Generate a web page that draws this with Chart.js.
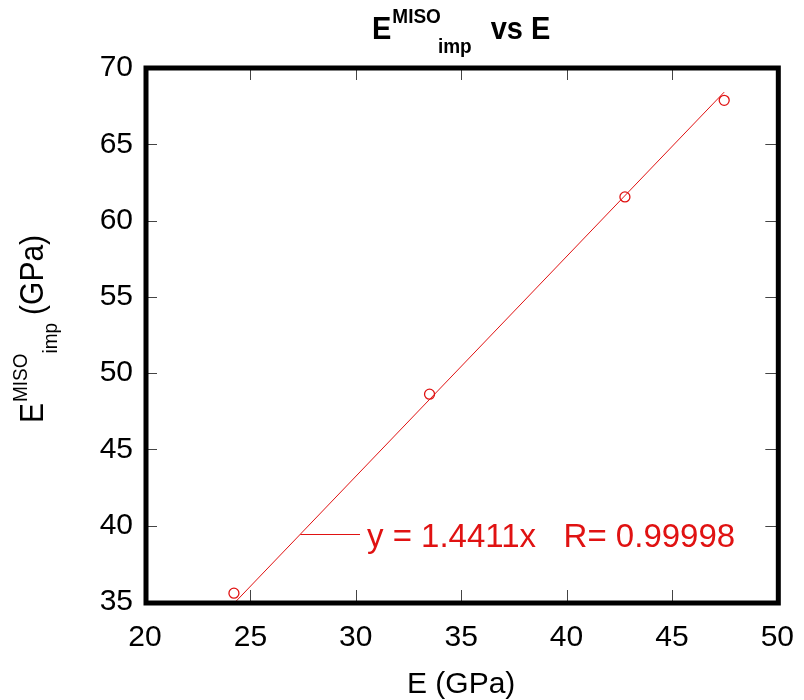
<!DOCTYPE html>
<html>
<head>
<meta charset="utf-8">
<script src="https://cdn.jsdelivr.net/npm/chart.js@4.4.1/dist/chart.umd.min.js"></script>
<style>
  body { margin: 0; background: #fff; }
  #wrap { width: 804px; height: 700px; }
</style>
</head>
<body>
<div id="wrap"><canvas id="myChart" width="804" height="700"></canvas></div>
<script>
// measured points (E, E_imp^MISO), GPa
const eValues = [24.22, 33.50, 42.77, 47.48];
const eImpValues = [35.58, 48.62, 61.55, 67.88];

// fitted line end points
const fitX = [24.30, 47.48];
const fitY = [35.02, 68.42];

// label of the fit and its leader line (data coords)
const fitLabel = 'y = 1.4411x   R= 0.99998';
const leaderX = [27.37, 30.20];
const leaderY = 39.44;

const xTicks = [20, 25, 30, 35, 40, 45, 50];
const yTicks = [35, 40, 45, 50, 55, 60, 65, 70];

const red = 'rgb(224,18,18)';
const fontFam = '"Liberation Sans", Arial, Helvetica, sans-serif';

const pts = eValues.map((v, i) => ({ x: v, y: eImpValues[i] }));
const fitPts = fitX.map((v, i) => ({ x: v, y: fitY[i] }));

// text made of base / superscript / subscript pieces, centred on x
// sy stretches the glyphs vertically (the source font is tall)
const drawRich = (ctx, x, y, parts, big, small, bold, sy) => {
    const w = bold ? 'bold ' : '';
    let total = 0;
    parts.forEach(p => {
        ctx.font = w + (p.k === 'n' ? big : small) + 'px ' + fontFam;
        p.w = ctx.measureText(p.t).width;
        total += p.w + (p.dx || 0);
    });
    let cx = x - total / 2;
    ctx.save();
    ctx.translate(0, y);
    ctx.scale(1, sy);
    parts.forEach(p => {
        ctx.font = w + (p.k === 'n' ? big : small) + 'px ' + fontFam;
        let dy = 0;
        if (p.k === 'sup') dy = -16 / sy;
        if (p.k === 'sub') dy = 14 / sy;
        cx += (p.dx || 0);
        ctx.fillText(p.t, cx, dy);
        cx += p.w;
    });
    ctx.restore();
};

const framePlugin = {
    id: 'frame',
    afterDraw(chart) {
        const ctx = chart.ctx;
        const a = chart.chartArea;
        const xs = chart.scales.x;
        const ys = chart.scales.y;
        ctx.save();

        // inner ticks on all four sides
        ctx.strokeStyle = '#444';
        ctx.lineWidth = 1;
        ctx.beginPath();
        xTicks.slice(1, -1).forEach(t => {
            const px = Math.round(xs.getPixelForValue(t)) + 0.5;
            ctx.moveTo(px, a.bottom); ctx.lineTo(px, a.bottom - 12);
            ctx.moveTo(px, a.top); ctx.lineTo(px, a.top + 12);
        });
        yTicks.slice(1, -1).forEach(t => {
            const py = Math.round(ys.getPixelForValue(t)) + 0.5;
            ctx.moveTo(a.left, py); ctx.lineTo(a.left + 12, py);
            ctx.moveTo(a.right, py); ctx.lineTo(a.right - 12, py);
        });
        ctx.stroke();

        // thick box
        ctx.strokeStyle = '#000';
        ctx.lineWidth = 5;
        ctx.strokeRect(a.left + 1, a.top, a.right - a.left, a.bottom - a.top + 1);

        // fit label with leader
        ctx.strokeStyle = red;
        ctx.lineWidth = 1;
        const ly = Math.round(ys.getPixelForValue(leaderY)) + 0.5;
        ctx.beginPath();
        ctx.moveTo(xs.getPixelForValue(leaderX[0]), ly);
        ctx.lineTo(xs.getPixelForValue(leaderX[1]), ly);
        ctx.stroke();
        ctx.fillStyle = red;
        ctx.font = '33px ' + fontFam;
        ctx.textAlign = 'left';
        ctx.textBaseline = 'middle';
        ctx.fillText(fitLabel, xs.getPixelForValue(leaderX[1]) + 7, ly + 3);

        // titles
        ctx.fillStyle = '#000';
        ctx.textBaseline = 'alphabetic';
        const midX = (a.left + a.right) / 2;
        drawRich(ctx, midX, 39, [
            { t: 'E', k: 'n' },
            { t: 'MISO', k: 'sup', dx: 1 },
            { t: 'imp', k: 'sub', dx: -3 },
            { t: 'vs E', k: 'n', dx: 19 }
        ], 29, 19, true, 1.1);

        ctx.font = '30px ' + fontFam;
        ctx.textAlign = 'center';
        ctx.fillText('E (GPa)', midX, 693);

        ctx.translate(43, (a.top + a.bottom) / 2 - 6);
        ctx.rotate(-Math.PI / 2);
        ctx.textAlign = 'left';
        drawRich(ctx, 0, 0, [
            { t: 'E', k: 'n' },
            { t: 'MISO', k: 'sup', dx: 1 },
            { t: 'imp', k: 'sub', dx: 0 },
            { t: '(GPa)', k: 'n', dx: 8 }
        ], 30, 19, false, 1.1);
        ctx.restore();
    }
};

const ctx = document.getElementById('myChart').getContext('2d');
const myChart = new Chart(ctx, {
    type: 'scatter',
    data: {
        datasets: [{
            label: 'fit',
            data: fitPts,
            showLine: true,
            borderColor: red,
            borderWidth: 1,
            pointRadius: 0,
            fill: false
        }, {
            label: 'E imp',
            data: pts,
            borderColor: red,
            backgroundColor: 'rgba(0,0,0,0)',
            borderWidth: 1.3,
            pointRadius: 5,
            pointStyle: 'circle'
        }]
    },
    options: {
        responsive: false,
        animation: false,
        layout: { padding: { left: 0, right: 24, top: 68, bottom: 0 } },
        plugins: {
            legend: { display: false },
            title: { display: false },
            tooltip: { enabled: false }
        },
        scales: {
            x: {
                type: 'linear',
                min: 20, max: 50,
                afterFit: (s) => { s.height = 98; },
                afterBuildTicks: (s) => { s.ticks = xTicks.map(v => ({ value: v })); },
                grid: { display: false },
                border: { display: false },
                ticks: { color: '#000', padding: 10, maxRotation: 0, font: { size: 30, family: fontFam } }
            },
            y: {
                type: 'linear',
                min: 35, max: 70,
                afterFit: (s) => { s.width = 145; },
                afterBuildTicks: (s) => { s.ticks = yTicks.map(v => ({ value: v })); },
                grid: { display: false },
                border: { display: false },
                ticks: { color: '#000', padding: 4, font: { size: 30, family: fontFam } }
            }
        }
    },
    plugins: [framePlugin]
});
</script>
</body>
</html>
